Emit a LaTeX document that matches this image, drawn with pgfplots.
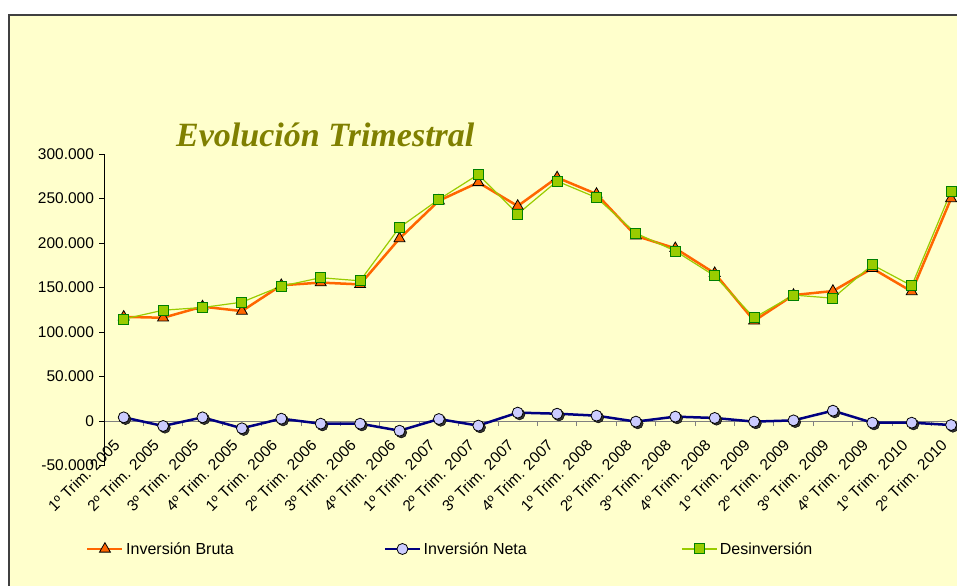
\documentclass[border=0pt]{standalone}
\usepackage{fontspec}
\setmainfont{Liberation Sans}
\newfontfamily\titlefont{Liberation Serif}
\usepackage{pgfplots}
\usepackage{pgfplotstable}
\pgfplotsset{compat=1.18}

\definecolor{fondo}{RGB}{255,255,204}
\definecolor{bruta}{RGB}{255,102,0}
\definecolor{neta}{RGB}{0,0,128}
\definecolor{netafill}{RGB}{204,204,255}
\definecolor{desinv}{RGB}{153,204,0}
\definecolor{desinvedge}{RGB}{0,128,0}
\definecolor{olivo}{RGB}{128,128,0}
\definecolor{ejex}{RGB}{128,128,128}

% quarterly values (euros)
\pgfplotstableread{
i  bruta   neta    desinv
0  117000   4100   114500
1  116000  -5600   124500
2  128500   4100   127500
3  123500  -8200   133500
4  152500   2600   151500
5  155500  -3000   161000
6  153500  -3000   157500
7  205000 -10900   217500
8  247500   2200   249000
9  268000  -5200   277000
10 241500   9400   232500
11 273500   8200   269500
12 255000   6000   251000
13 208000   -700   211000
14 194000   4900   191000
15 166000   3400   163000
16 112500   -700   116000
17 141500    700   141500
18 146000  11600   138000
19 171500  -1900   175500
20 145500  -1900   152000
21 250000  -4500   258000
}\datos

\begin{document}
\begin{tikzpicture}
\fill[white] (0,0) rectangle (957bp,586bp);
\fill[fondo] (9bp,0) rectangle (957bp,571bp);
\draw[line width=2bp, black!75] (9bp,0) -- (9bp,571bp) -- (957bp,571bp);

\node[anchor=base west, inner sep=0pt, text=olivo,
      font=\titlefont\bfseries\itshape\fontsize{34bp}{40bp}\selectfont]
  at (176bp,439bp) {Evolución Trimestral};

\begin{axis}[
    at={(104bp,120.5bp)}, anchor=south west,
    scale only axis, width=853bp, height=311.5bp,
    xmin=-0.5, xmax=21.15,
    ymin=-50000, ymax=300000,
    clip=false,
    scaled y ticks=false,
    axis x line*=middle, axis y line*=left,
    x axis line style={ejex, line width=1bp},
    y axis line style={black, line width=0.8bp},
    xtick={0,...,21},
    xticklabels={1º Trim. 2005,2º Trim. 2005,3º Trim. 2005,4º Trim. 2005,
                 1º Trim. 2006,2º Trim. 2006,3º Trim. 2006,4º Trim. 2006,
                 1º Trim. 2007,2º Trim. 2007,3º Trim. 2007,4º Trim. 2007,
                 1º Trim. 2008,2º Trim. 2008,3º Trim. 2008,4º Trim. 2008,
                 1º Trim. 2009,2º Trim. 2009,3º Trim. 2009,4º Trim. 2009,
                 1º Trim. 2010,2º Trim. 2010},
    major x tick style={draw=none},
    minor xtick={-0.5,0.5,...,20.5},
    minor x tick style={ejex, line width=1bp},
    xtick align=outside, ytick align=outside,
    major tick length=5bp, minor tick length=5bp,
    ytick={-50000,0,50000,100000,150000,200000,250000,300000},
    yticklabels={-50.000,0,50.000,100.000,150.000,200.000,250.000,300.000},
    y tick style={black, line width=0.8bp},
    ticklabel style={font=\fontsize{15.5bp}{18bp}\selectfont},
    yticklabel style={xshift=-1.5bp},
    xticklabel style={xshift=-11bp, yshift=-11bp, rotate=45,
                      anchor=north east, inner sep=1bp},
    legend columns=3,
    legend style={at={(axis description cs:-0.0211,-0.268)}, anchor=west,
                  draw=none, fill=none, inner sep=0pt,
                  font=\fontsize{16bp}{19bp}\selectfont,
                  nodes={inner sep=2.5bp},
                  /tikz/every even column/.append style={column sep=0pt}},
    legend image code/.code={\draw[mark repeat=2,mark phase=2]
        plot coordinates {(0bp,0bp) (17.5bp,0bp) (35bp,0bp)};},
]
\addplot[bruta, line width=2.5bp, mark=triangle*, mark size=6.3bp,
         mark options={fill=bruta, draw=black, line width=0.8bp, solid}]
  table[x=i, y=bruta] {\datos};
\addlegendentry{\makebox[255bp][l]{Inversión Bruta}}

\addplot[only marks, mark=*, mark size=5.5bp, forget plot,
         mark options={fill=black!80, draw=none, xshift=1.8bp, yshift=-1.8bp}]
  table[x=i, y=neta] {\datos};
\addplot[neta, line width=2.5bp, mark=*, mark size=5.5bp,
         mark options={fill=netafill, draw=black, line width=0.8bp, solid}]
  table[x=i, y=neta] {\datos};
\addlegendentry{\makebox[255bp][l]{Inversión Neta}}

\addplot[desinv, line width=1.2bp, mark=square*, mark size=5bp,
         mark options={fill=desinv, draw=desinvedge, line width=1bp, solid}]
  table[x=i, y=desinv] {\datos};
\addlegendentry{Desinversión}
\end{axis}

\pgfresetboundingbox
\useasboundingbox (0,0) rectangle (957bp,586bp);
\end{tikzpicture}
\end{document}
